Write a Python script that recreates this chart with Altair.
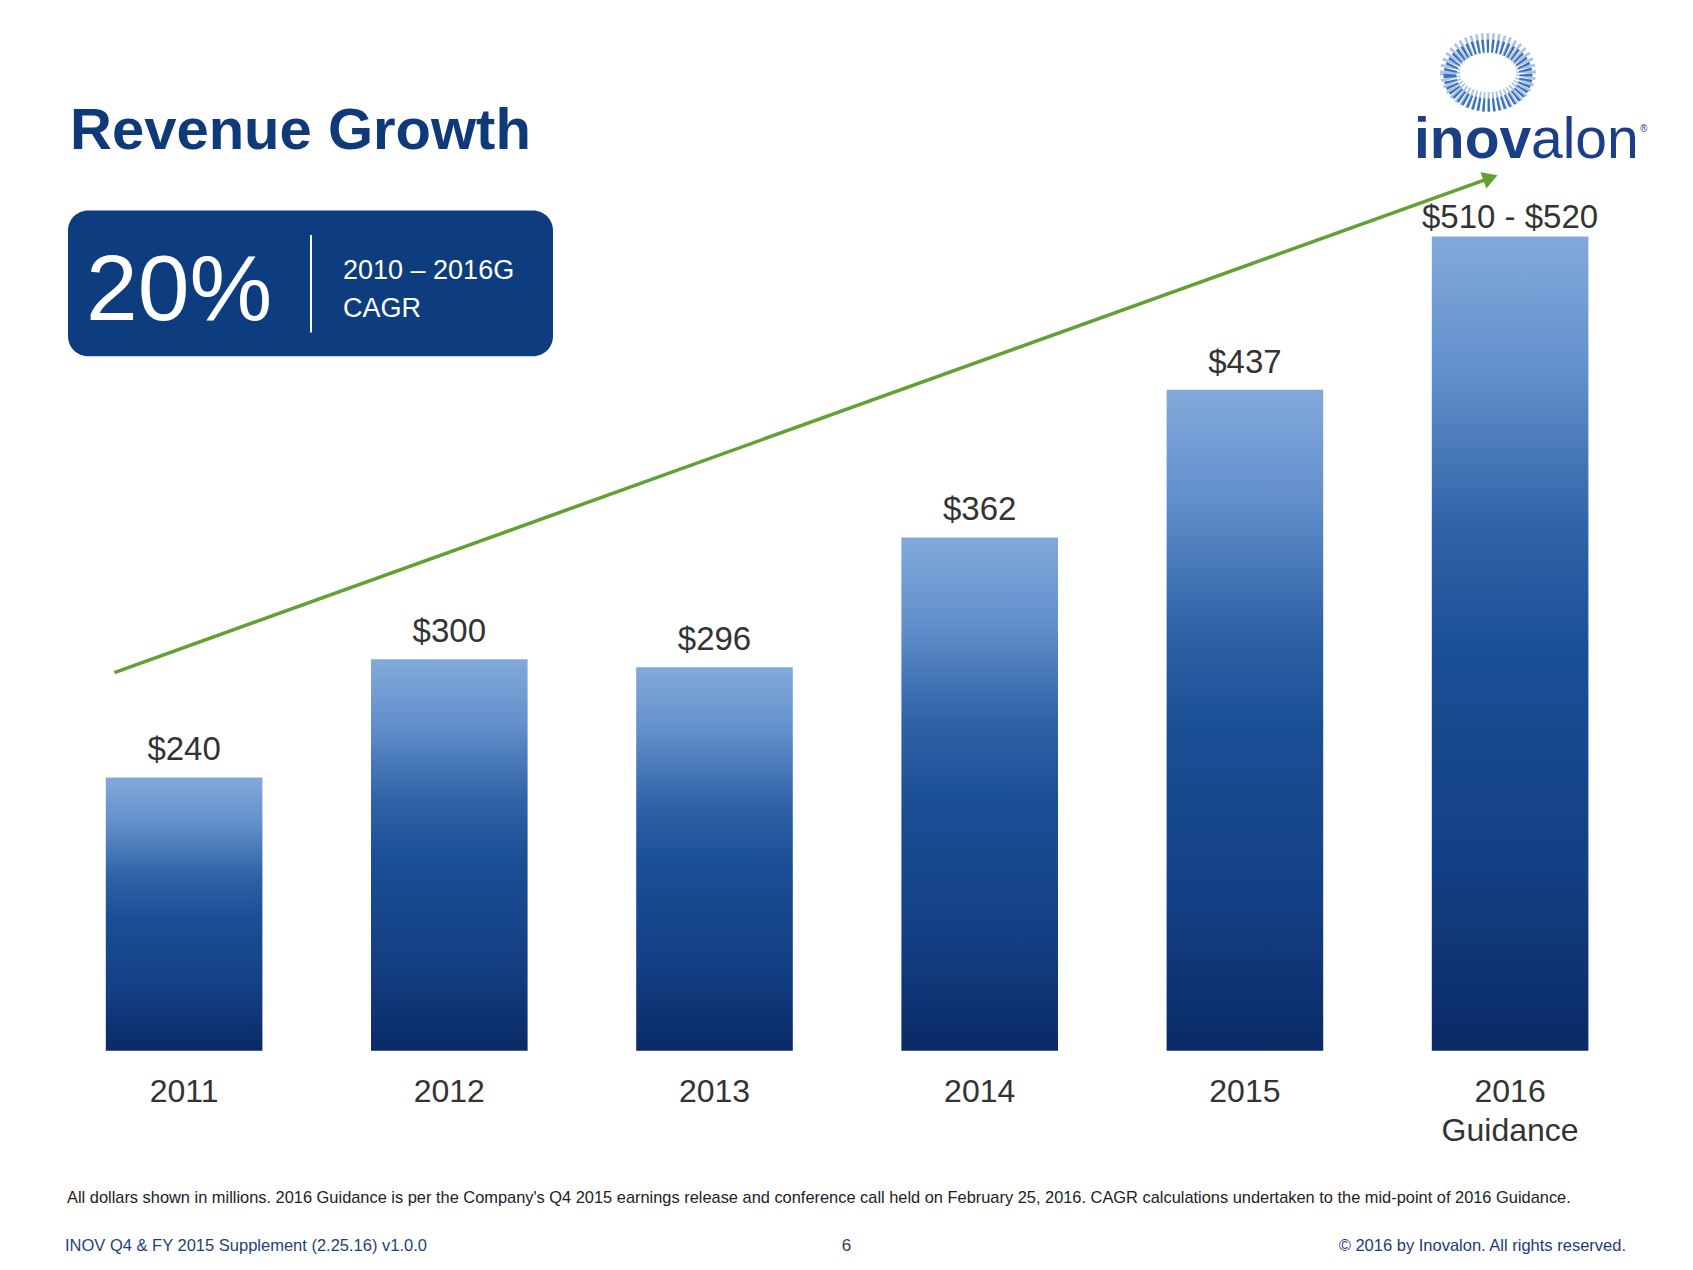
import altair as alt
import pandas as pd

# ---------------- data ----------------
years = ["2011", "2012", "2013", "2014", "2015", "2016\nGuidance"]
revenue = [240, 300, 296, 362, 437, 515]          # 2016 = mid-point of $510-$520
value_labels = ["$240", "$300", "$296", "$362", "$437", "$510 - $520"]
is_guidance = [False, False, False, False, False, True]

# CAGR trend arrow (in bar-index / $ units)
trend_x = [-0.263, 4.926]
trend_y = [293.3, 544.8]

title_text = "Revenue Growth"
cagr_value = "20%"
cagr_line1 = "2010 – 2016G"
cagr_line2 = "CAGR"
footnote = ("All dollars shown in millions. 2016 Guidance is per the Company's Q4 2015 earnings release "
            "and conference call held on February 25, 2016. CAGR calculations undertaken to the "
            "mid-point of  2016 Guidance.")
footer_left = "INOV Q4 & FY 2015 Supplement (2.25.16) v1.0.0"
footer_page = "6"
footer_right = "© 2016 by Inovalon. All rights reserved."

df = pd.DataFrame({
    "year": years,
    "idx": list(range(len(years))),
    "revenue": revenue,
    "label": value_labels,
    "guidance": is_guidance,
})
trend = pd.DataFrame({"tx": trend_x, "ty": trend_y})
trend_end = trend.tail(1)
one = pd.DataFrame({"d": [0]})

W, H = 1677, 1254
FONT = "Liberation Sans, Arial, sans-serif"
NAVY = "#0E3D7F"
GREEN = "#62A131"

xs = alt.Scale(domain=[-0.5, 5.5], range=[43.5, 1634.7], zero=False, nice=False, padding=0)
ys = alt.Scale(domain=[101, 520], range=[1042.8, 218.6], zero=False, nice=False, padding=0)

X = alt.X("idx:Q", scale=xs, axis=None)

grad = alt.Gradient(
    gradient="linear",
    stops=[
        alt.GradientStop(color="#82A9DB", offset=0),
        alt.GradientStop(color="#6391CD", offset=0.16),
        alt.GradientStop(color="#2F62A7", offset=0.36),
        alt.GradientStop(color="#1A4E94", offset=0.52),
        alt.GradientStop(color="#133F84", offset=0.78),
        alt.GradientStop(color="#0A2A66", offset=1),
    ],
    x1=0, x2=0, y1=0, y2=1,
)

bars = alt.Chart(df).mark_bar(width=156.6, color=grad).encode(
    x=X,
    y=alt.Y("revenue:Q", scale=ys, axis=None),
    y2=alt.datum(101),
)

value_text = alt.Chart(df).transform_filter("!datum.guidance").mark_text(
    font=FONT, fontSize=33, color="#333333", baseline="alphabetic", dy=-17
).encode(x=X, y=alt.Y("revenue:Q", scale=ys), text="label:N")

value_text_g = alt.Chart(df).transform_filter("datum.guidance").mark_text(
    font=FONT, fontSize=33, color="#333333", baseline="alphabetic", dy=-8
).encode(x=X, y=alt.Y("revenue:Q", scale=ys), text="label:N")

cat_text = alt.Chart(df).mark_text(
    font=FONT, fontSize=32, color="#333333", baseline="alphabetic",
    dy=51, lineBreak="\n", lineHeight=39
).encode(x=X, y=alt.datum(101), text="year:N")

trend_line = alt.Chart(trend).mark_line(color=GREEN, strokeWidth=3.5).encode(
    x=alt.X("tx:Q", scale=xs), y=alt.Y("ty:Q", scale=ys)
)
arrow_head = alt.Chart(trend_end).mark_point(
    shape="triangle-right", size=300, filled=True, color=GREEN, opacity=1, angle=340.2
).encode(x=alt.X("tx:Q", scale=xs), y=alt.Y("ty:Q", scale=ys))


def txt(text, x, y, **kw):
    return alt.Chart(one).mark_text(text=text, baseline="alphabetic", **kw).encode(
        x=alt.value(x), y=alt.value(y)
    )


title = txt(title_text, 62, 141, align="left", font=FONT, fontSize=58,
            fontWeight="bold", color="#0F3A7A")

box = alt.Chart(one).mark_rect(cornerRadius=20, color=NAVY).encode(
    x=alt.value(60), x2=alt.value(545), y=alt.value(202.5), y2=alt.value(348.3)
)
sep = alt.Chart(one).mark_rule(color="white", strokeWidth=2).encode(
    x=alt.value(303), y=alt.value(227), y2=alt.value(324.6)
)
cagr_big = txt(cagr_value, 78, 311.6, align="left", font=FONT, fontSize=93, color="white")
cagr_t1 = txt(cagr_line1, 335, 270.6, align="left", font=FONT, fontSize=27, color="white")
cagr_t2 = txt(cagr_line2, 335, 309.4, align="left", font=FONT, fontSize=27, color="white")

# logo
ellipse = "M-1,0A1,0.776,0,1,0,1,0A1,0.776,0,1,0,-1,0Z"
ring_light = alt.Chart(one).mark_point(
    shape=ellipse, size=76 * 76, filled=False, stroke="#A9C3E6", strokeWidth=20,
    strokeDash=[2.2, 2.6], opacity=1
).encode(x=alt.value(1480), y=alt.value(64.5))
ring_dark = alt.Chart(one).mark_point(
    shape=ellipse, size=76 * 76, filled=False, stroke="#3E70B8", strokeWidth=13,
    strokeDash=[2.2, 2.6], opacity=1
).encode(x=alt.value(1480), y=alt.value(67.5))
logo1 = txt("inov", 1406, 149.6, align="left", font=FONT, fontSize=57,
            fontWeight="bold", color="#1B3F86")
logo2 = txt("alon", 1523, 149.6, align="left", font=FONT, fontSize=57,
            fontWeight="normal", color="#1B3F86")
logo_r = txt("®", 1632, 124, align="left", font=FONT, fontSize=10, color="#1B3F86")

foot1 = txt(footnote, 59, 1195, align="left", font=FONT, fontSize=16.4, color="#222222")
foot2 = txt(footer_left, 57, 1243, align="left", font=FONT, fontSize=16.5, color="#1F3F7F")
foot3 = txt(footer_page, 838.5, 1243, align="center", font=FONT, fontSize=17, color="#2B3A5C")
foot4 = txt(footer_right, 1618, 1243, align="right", font=FONT, fontSize=16.5, color="#1C3B78")

chart = alt.layer(
    box, sep, cagr_big, cagr_t1, cagr_t2, title,
    bars, value_text, value_text_g, cat_text,
    trend_line, arrow_head,
    ring_light, ring_dark, logo1, logo2, logo_r,
    foot1, foot2, foot3, foot4,
).properties(
    width=W, height=H, padding=0,
    autosize=alt.AutoSizeParams(type="none"),
    background="white",
).configure_view(stroke=None)

chart.save("out.html", embed_options={"renderer": "svg", "actions": False})
